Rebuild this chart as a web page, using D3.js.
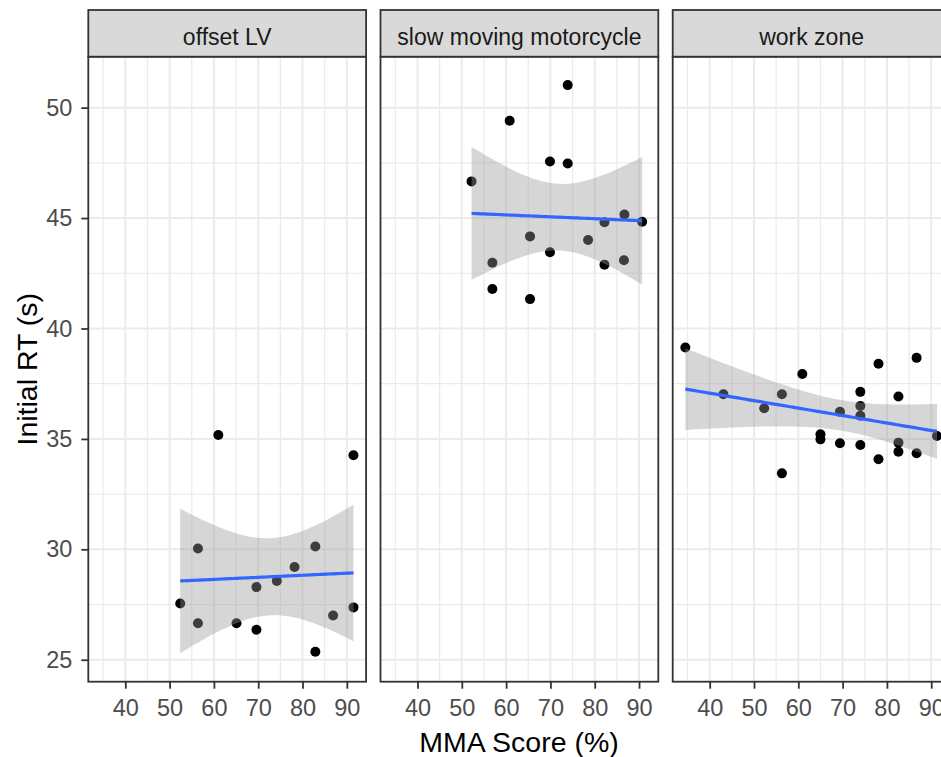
<!DOCTYPE html>
<html><head><meta charset="utf-8">
<script src="https://cdn.jsdelivr.net/npm/d3@7"></script>
<style>body{margin:0;background:#fff} svg{display:block}</style>
</head><body>
<svg id="chart" width="941" height="757"></svg>
<script>
// ---------------- data ----------------
const facets = ["offset LV", "slow moving motorcycle", "work zone"];

const offsetLV_x = [61.0, 91.5, 56.4, 82.9, 78.2, 74.2, 69.6, 52.4, 56.4, 65.1, 69.6, 82.9, 86.9, 91.5];
const offsetLV_y = [35.18, 34.26, 30.04, 30.13, 29.2, 28.57, 28.29, 27.55, 26.65, 26.65, 26.36, 25.36, 27.0, 27.37];

const slowMoto_x = [73.9, 60.8, 69.9, 73.9, 52.2, 86.7, 90.7, 82.2, 65.4, 78.5, 69.9, 56.9, 82.2, 86.6, 56.9, 65.4];
const slowMoto_y = [51.02, 49.41, 47.56, 47.47, 46.66, 45.16, 44.83, 44.81, 44.17, 44.01, 43.45, 42.98, 42.89, 43.09, 41.79, 41.33];

const workZone_x = [34.5, 43.1, 52.3, 56.3, 60.9, 56.3, 65.0, 65.0, 69.4, 69.4, 74.0, 74.0, 74.0, 74.0, 78.1, 78.1, 82.6, 82.6, 82.6, 86.7, 86.7, 91.3];
const workZone_y = [39.14, 37.02, 36.39, 37.02, 37.94, 33.44, 35.21, 34.98, 36.23, 34.80, 37.13, 36.49, 36.05, 34.72, 38.40, 34.08, 36.92, 34.83, 34.42, 38.67, 34.35, 35.13];

const xBreaks = [40, 50, 60, 70, 80, 90];
const yBreaks = [25, 30, 35, 40, 45, 50];
const xTitle = "MMA Score (%)";
const yTitle = "Initial RT (s)";

const panelsData = [
  {name: facets[0], xs: offsetLV_x, ys: offsetLV_y},
  {name: facets[1], xs: slowMoto_x, ys: slowMoto_y},
  {name: facets[2], xs: workZone_x, ys: workZone_y}
];

// ---------------- stats (geom_smooth method = "lm") ----------------
function tQuantile975(df) {
  const z = 1.959964;
  const z3 = z**3, z5 = z**5, z7 = z**7, z9 = z**9;
  const g1 = (z3 + z) / 4;
  const g2 = (5*z5 + 16*z3 + 3*z) / 96;
  const g3 = (3*z7 + 19*z5 + 17*z3 - 15*z) / 384;
  const g4 = (79*z9 + 776*z7 + 1482*z5 - 1920*z3 - 945*z) / 92160;
  return z + g1/df + g2/df**2 + g3/df**3 + g4/df**4;
}
function lmFit(xs, ys) {
  const n = xs.length;
  const mx = d3.mean(xs), my = d3.mean(ys);
  let sxx = 0, sxy = 0;
  xs.forEach((x, i) => { sxx += (x-mx)**2; sxy += (x-mx)*(ys[i]-my); });
  const b = sxy / sxx, a = my - b*mx;
  let sse = 0;
  xs.forEach((x, i) => { sse += (ys[i] - (a + b*x))**2; });
  const s2 = sse / (n - 2);
  const t = tQuantile975(n - 2);
  const [x0, x1] = d3.extent(xs);
  const grid = d3.range(80).map(i => x0 + (x1 - x0) * i / 79);
  return grid.map(x => {
    const fit = a + b*x;
    const se = Math.sqrt(s2 * (1/n + (x-mx)**2 / sxx));
    return {x, y: fit, lo: fit - t*se, hi: fit + t*se};
  });
}
panelsData.forEach(p => { p.fit = lmFit(p.xs, p.ys); });

// ---------------- layout ----------------
const svg = d3.select("#chart");
const font = "'Liberation Sans', Arial, Helvetica, sans-serif";
const stripTop = 10, panelTop = 56.7, panelBottom = 681.7;
const panelLeft0 = 88.3, panelW = 277.8, panelStep = 292.2;

const allX = panelsData.flatMap(p => p.xs);
const allY = panelsData.flatMap(p => p.ys.concat(p.fit.map(d => d.lo), p.fit.map(d => d.hi)));
function expand(ext) { const r = ext[1] - ext[0]; return [ext[0] - 0.05*r, ext[1] + 0.05*r]; }
const xDom = expand(d3.extent(allX));
const yDom = expand(d3.extent(allY));

const y = d3.scaleLinear().domain(yDom).range([panelBottom, panelTop]);

function minorOf(breaks, dom) {
  const step = breaks[1] - breaks[0];
  const m = [];
  for (let v = breaks[0] - step/2; v <= breaks[breaks.length-1] + step/2 + 1e-9; v += step) {
    if (v >= dom[0] && v <= dom[1]) m.push(v);
  }
  return m;
}
const xMinor = minorOf(xBreaks, xDom);
const yMinor = minorOf(yBreaks, yDom);

panelsData.forEach((p, i) => {
  const left = panelLeft0 + i * panelStep;
  const x = d3.scaleLinear().domain(xDom).range([left, left + panelW]);
  const g = svg.append("g");

  g.append("rect").attr("x", left).attr("y", panelTop).attr("width", panelW)
    .attr("height", panelBottom - panelTop).attr("fill", "#fff");

  // minor grid
  g.selectAll(".vmin").data(xMinor).join("line")
    .attr("x1", d => x(d)).attr("x2", d => x(d)).attr("y1", panelTop).attr("y2", panelBottom)
    .attr("stroke", "#EBEBEB").attr("stroke-width", 1.2);
  g.selectAll(".hmin").data(yMinor).join("line")
    .attr("x1", left).attr("x2", left + panelW).attr("y1", d => y(d)).attr("y2", d => y(d))
    .attr("stroke", "#EBEBEB").attr("stroke-width", 1.2);
  // major grid
  g.selectAll(".vmaj").data(xBreaks).join("line")
    .attr("x1", d => x(d)).attr("x2", d => x(d)).attr("y1", panelTop).attr("y2", panelBottom)
    .attr("stroke", "#EBEBEB").attr("stroke-width", 2);
  g.selectAll(".hmaj").data(yBreaks).join("line")
    .attr("x1", left).attr("x2", left + panelW).attr("y1", d => y(d)).attr("y2", d => y(d))
    .attr("stroke", "#EBEBEB").attr("stroke-width", 2);

  // points
  g.selectAll(".pt").data(p.xs.map((v, k) => [v, p.ys[k]])).join("circle")
    .attr("cx", d => x(d[0])).attr("cy", d => y(d[1])).attr("r", 5).attr("fill", "#000");

  // ribbon + line
  g.append("path").datum(p.fit)
    .attr("d", d3.area().x(d => x(d.x)).y0(d => y(d.lo)).y1(d => y(d.hi)))
    .attr("fill", "#999999").attr("fill-opacity", 0.4);
  g.append("path").datum(p.fit)
    .attr("d", d3.line().x(d => x(d.x)).y(d => y(d.y)))
    .attr("fill", "none").attr("stroke", "#3366FF").attr("stroke-width", 3.2);

  // border
  g.append("rect").attr("x", left).attr("y", panelTop).attr("width", panelW)
    .attr("height", panelBottom - panelTop).attr("fill", "none")
    .attr("stroke", "#333333").attr("stroke-width", 1.8);

  // strip
  g.append("rect").attr("x", left).attr("y", stripTop).attr("width", panelW)
    .attr("height", panelTop - stripTop).attr("fill", "#D9D9D9")
    .attr("stroke", "#333333").attr("stroke-width", 1.8);
  g.append("text").attr("x", left + panelW/2).attr("y", 45)
    .attr("text-anchor", "middle").attr("font-family", font).attr("font-size", 23)
    .attr("fill", "#1A1A1A").text(p.name);

  // x axis
  const ax = svg.append("g").attr("transform", `translate(0,${panelBottom})`)
    .call(d3.axisBottom(x).tickValues(xBreaks).tickSize(7).tickPadding(11).tickFormat(d3.format("d")));
  ax.select(".domain").remove();
  ax.selectAll(".tick line").attr("stroke", "#333333").attr("stroke-width", 1.8);
  ax.selectAll(".tick text").attr("font-family", font).attr("font-size", 23.5).attr("fill", "#4D4D4D");
});

// y axis
const ay = svg.append("g").attr("transform", `translate(${panelLeft0},0)`)
  .call(d3.axisLeft(y).tickValues(yBreaks).tickSize(7).tickPadding(9).tickFormat(d3.format("d")));
ay.select(".domain").remove();
ay.selectAll(".tick line").attr("stroke", "#333333").attr("stroke-width", 1.8);
ay.selectAll(".tick text").attr("font-family", font).attr("font-size", 23.5).attr("fill", "#4D4D4D");

// titles
svg.append("text").attr("x", 519).attr("y", 752).attr("text-anchor", "middle")
  .attr("font-family", font).attr("font-size", 28.5).attr("fill", "#000").text(xTitle);
svg.append("text").attr("transform", `translate(37,${(panelTop + panelBottom)/2}) rotate(-90)`)
  .attr("text-anchor", "middle").attr("font-family", font).attr("font-size", 28.5)
  .attr("fill", "#000").text(yTitle);
</script>
</body></html>
